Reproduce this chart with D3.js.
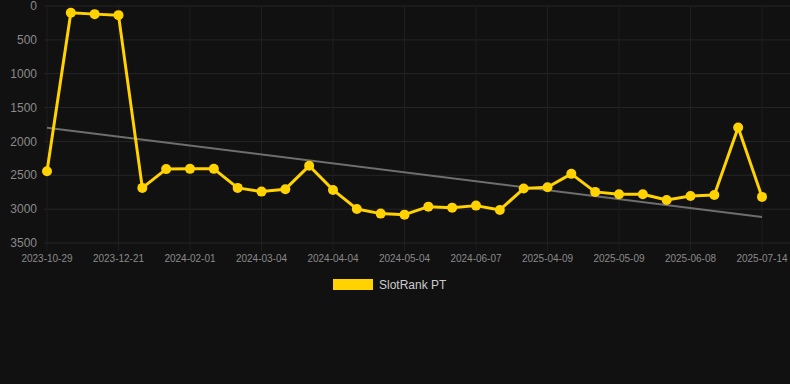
<!DOCTYPE html>
<html>
<head>
<meta charset="utf-8">
<script src="https://cdn.jsdelivr.net/npm/d3@7"></script>
<style>
    body { margin: 0; background: #111111; }
    svg { display: block; font-family: "Liberation Sans", Arial, sans-serif; }
</style>
</head>
<body>
<div id="chart"></div>
<script>
// rank per observation (lower is better), one point per observation
var rankValues = [2440, 100, 120, 135, 2686, 2409, 2405, 2405, 2686, 2741,
    2705, 2360, 2716, 2997, 3066, 3081, 2963, 2978, 2948, 3012,
    2696, 2676, 2479, 2745, 2779, 2779, 2864, 2805, 2790, 1794, 2819];

// labels shown on the x axis, every third observation
var tickLabels = ["2023-10-29", "2023-12-21", "2024-02-01", "2024-03-04", "2024-04-04",
    "2024-05-04", "2024-06-07", "2025-04-09", "2025-05-09", "2025-06-08", "2025-07-14"];

var yTicks = [0, 500, 1000, 1500, 2000, 2500, 3000, 3500];
var seriesName = "SlotRank PT";

var width = 790, height = 384;
var margin = {top: 6, right: 28, bottom: 141, left: 47};
var innerW = width - margin.left - margin.right,
    innerH = height - margin.top - margin.bottom;

var gold = "#ffd200";

var svg = d3.select("#chart").append("svg")
    .attr("width", width)
    .attr("height", height);

svg.append("rect")
    .attr("width", width)
    .attr("height", height)
    .attr("fill", "#111111");

var main = svg.append("g")
    .attr("transform", "translate(" + margin.left + "," + margin.top + ")");

var idx = d3.range(rankValues.length);

var x = d3.scalePoint()
    .domain(idx)
    .range([0, innerW]);

var y = d3.scaleLinear()
    .domain([0, 3500])
    .range([0, innerH]);

// horizontal grid
main.append("g")
    .selectAll("line")
    .data(yTicks)
    .enter().append("line")
    .attr("x1", -3)
    .attr("x2", innerW + margin.right)
    .attr("y1", function (d) { return y(d); })
    .attr("y2", function (d) { return y(d); })
    .attr("stroke", "#262626")
    .attr("stroke-width", 1);

// vertical grid, at labelled observations
var tickIdx = tickLabels.map(function (d, i) { return i * 3; });

main.append("g")
    .selectAll("line")
    .data(tickIdx)
    .enter().append("line")
    .attr("x1", function (d) { return x(d); })
    .attr("x2", function (d) { return x(d); })
    .attr("y1", 0)
    .attr("y2", innerH + 8)
    .attr("stroke", "#1f1f1f")
    .attr("stroke-width", 1);

// y axis labels
main.append("g")
    .selectAll("text")
    .data(yTicks)
    .enter().append("text")
    .attr("x", -10)
    .attr("y", function (d) { return y(d); })
    .attr("dy", "0.35em")
    .attr("text-anchor", "end")
    .attr("fill", "#8a8a8a")
    .style("font-size", "12px")
    .text(function (d) { return d; });

// x axis labels
main.append("g")
    .selectAll("text")
    .data(tickLabels)
    .enter().append("text")
    .attr("x", function (d, i) { return x(tickIdx[i]); })
    .attr("y", innerH + 19)
    .attr("text-anchor", "middle")
    .attr("fill", "#8a8a8a")
    .style("font-size", "10px")
    .text(function (d) { return d; });

// trend line (least squares over the observations)
var n = rankValues.length;
var mx = d3.mean(idx), my = d3.mean(rankValues);
var sxy = d3.sum(idx, function (i) { return (i - mx) * (rankValues[i] - my); });
var sxx = d3.sum(idx, function (i) { return (i - mx) * (i - mx); });
var slope = sxy / sxx, icpt = my - slope * mx;

main.append("line")
    .attr("x1", x(0))
    .attr("y1", y(icpt))
    .attr("x2", x(n - 1))
    .attr("y2", y(icpt + slope * (n - 1)))
    .attr("stroke", "#6e6e6e")
    .attr("stroke-width", 2);

// series line
var line = d3.line()
    .x(function (d, i) { return x(i); })
    .y(function (d) { return y(d); });

main.append("path")
    .datum(rankValues)
    .attr("fill", "none")
    .attr("stroke", gold)
    .attr("stroke-width", 3)
    .attr("stroke-linejoin", "round")
    .attr("d", line);

main.append("g")
    .selectAll("circle")
    .data(rankValues)
    .enter().append("circle")
    .attr("cx", function (d, i) { return x(i); })
    .attr("cy", function (d) { return y(d); })
    .attr("r", 5)
    .attr("fill", gold);

// legend
var legend = svg.append("g").attr("transform", "translate(333,279)");
legend.append("rect")
    .attr("width", 40)
    .attr("height", 11)
    .attr("fill", gold);
legend.append("text")
    .attr("x", 46)
    .attr("y", 5.5)
    .attr("dy", "0.35em")
    .attr("fill", "#cccccc")
    .style("font-size", "12px")
    .text(seriesName);
</script>
</body>
</html>
